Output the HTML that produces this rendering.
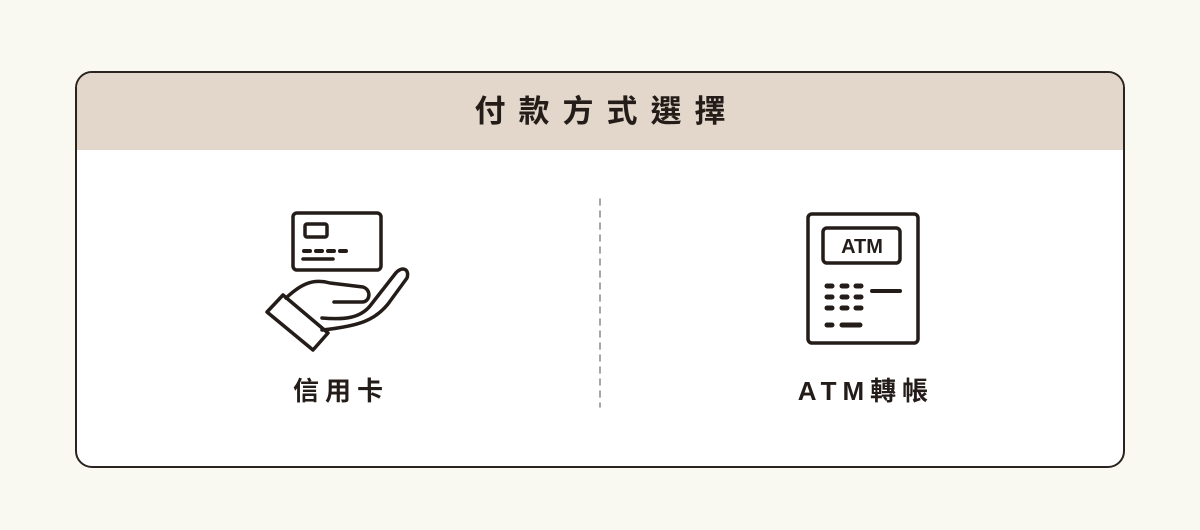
<!DOCTYPE html>
<html><head><meta charset="utf-8"><style>
body{margin:0;width:1200px;height:530px;background:#f9f9f1;position:relative;font-family:"Liberation Sans","Noto Sans CJK TC",sans-serif;overflow:hidden}
.box{position:absolute;left:75px;top:71px;width:1046px;height:393px;border:2px solid #2a2320;border-radius:17px;background:#fff;overflow:hidden}
.hd{height:77px;background:#e3d6ca;text-align:center;line-height:77px;font-size:31px;font-weight:bold;letter-spacing:13px;color:#231c18;padding-left:13px}
.lb{position:absolute;font-size:26px;font-weight:bold;color:#231c18;letter-spacing:6px;text-align:center;width:300px;padding-left:6px}
</style></head><body>
<div class="box"><div class="hd">付款方式選擇</div></div>
<svg width="1200" height="530" style="position:absolute;left:0;top:0" fill="none" stroke="#231c18" stroke-width="3.5" stroke-linecap="round" stroke-linejoin="round">
<line x1="600" y1="199" x2="600" y2="407" stroke="#888" stroke-width="1.5" stroke-dasharray="6,6"/>
<rect x="293" y="213" width="88" height="57" rx="4"/>
<rect x="305" y="224" width="22" height="13" rx="2"/>
<line x1="304" y1="251" x2="352" y2="251" stroke-width="4" stroke-dasharray="6,6"/>
<line x1="303" y1="259" x2="333" y2="259"/>
<path d="M267 312 L283 295 L328 333 L313 350 Z"/>
<path d="M286 298 C300 285 312 278 330 283 L363 287 C372 290 370 302 362 302 L334 302"/>
<path d="M322 318 C345 320 360 318 370 306 L395 274 C401 266 410 268 407 278 L388 304 C375 320 360 326 322 330"/>
<rect x="808" y="214" width="110" height="129" rx="4"/>
<rect x="823" y="228" width="77" height="35" rx="4"/>
<g stroke-width="5">
<line x1="827" y1="286" x2="832" y2="286"/><line x1="842" y1="286" x2="847" y2="286"/><line x1="856" y1="286" x2="861" y2="286"/>
<line x1="827" y1="297" x2="832" y2="297"/><line x1="842" y1="297" x2="847" y2="297"/><line x1="856" y1="297" x2="861" y2="297"/>
<line x1="827" y1="308" x2="832" y2="308"/><line x1="842" y1="308" x2="847" y2="308"/><line x1="856" y1="308" x2="861" y2="308"/>
<line x1="827" y1="325" x2="832" y2="325"/><line x1="842" y1="325" x2="860" y2="325"/>
<line x1="872" y1="291" x2="900" y2="291" stroke-width="4"/>
</g>
<text x="862" y="253" text-anchor="middle" font-family="Liberation Sans" font-weight="bold" font-size="20" fill="#231c18" stroke="none">ATM</text>
</svg>
<div class="lb" style="left:185px;top:371px">信用卡</div>
<div class="lb" style="left:710px;top:371px">ATM轉帳</div>
</body></html>
